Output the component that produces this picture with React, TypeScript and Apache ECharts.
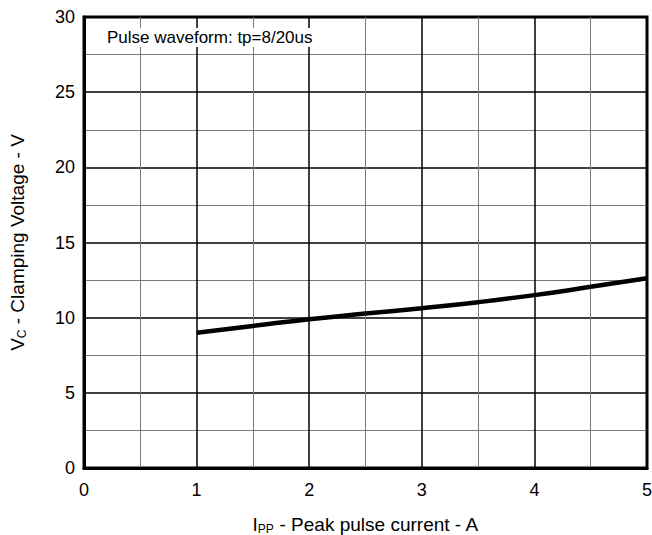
import React, { useEffect, useRef } from "react";
import * as echarts from "echarts";

const currentA = [1, 1.5, 2, 2.5, 3, 3.5, 4, 4.5, 5];
const clampV = [9.0, 9.45, 9.9, 10.27, 10.63, 11.03, 11.5, 12.05, 12.62];
const annotation = "Pulse waveform: tp=8/20us";

export default function App() {
  const ref = useRef<HTMLDivElement>(null);
  useEffect(() => {
    if (!ref.current) return;
    const chart = echarts.init(ref.current, null, { renderer: "svg" });
    const font = "'Liberation Sans', Arial, sans-serif";
    chart.setOption({
      animation: false,
      backgroundColor: "#fff",
      textStyle: { fontFamily: font, color: "#000" },
      grid: {
        left: 84,
        top: 17,
        right: 5,
        bottom: 67,
        containLabel: false,
        outerBoundsMode: "none",
        show: true,
        borderColor: "#000",
        borderWidth: 3,
        backgroundColor: "transparent",
      },
      xAxis: {
        type: "value",
        min: 0,
        max: 5,
        interval: 1,
        axisLine: { show: true, onZero: false, lineStyle: { color: "#000", width: 3 } },
        axisTick: { show: false },
        axisLabel: { color: "#000", fontSize: 18, fontFamily: font, margin: 13 },
        splitLine: { show: true, lineStyle: { color: "#000", width: 1.5 } },
        minorTick: { show: false, splitNumber: 2 },
        minorSplitLine: { show: true, lineStyle: { color: "#7a7a7a", width: 1 } },
        name: "{n|I}{s|PP}{n| - Peak pulse current - A}",
        nameLocation: "middle",
        nameGap: 46,
        nameTextStyle: {
          rich: {
            n: { fontSize: 19, fontFamily: font, color: "#000" },
            s: { fontSize: 12, fontFamily: font, color: "#000", verticalAlign: "bottom", padding: [9, 0, 0, 0] },
          },
        },
      },
      yAxis: {
        type: "value",
        min: 0,
        max: 30,
        interval: 5,
        axisLine: { show: true, onZero: false, lineStyle: { color: "#000", width: 3 } },
        axisTick: { show: false },
        axisLabel: { color: "#000", fontSize: 18, fontFamily: font, margin: 9 },
        splitLine: { show: true, lineStyle: { color: "#000", width: 1.5 } },
        minorTick: { show: false, splitNumber: 2 },
        minorSplitLine: { show: true, lineStyle: { color: "#7a7a7a", width: 1 } },
        name: "{n|V}{s|C}{n| - Clamping Voltage - V}",
        nameLocation: "middle",
        nameRotate: 90,
        nameGap: 56,
        nameTextStyle: {
          rich: {
            n: { fontSize: 19, fontFamily: font, color: "#000" },
            s: { fontSize: 12, fontFamily: font, color: "#000", verticalAlign: "bottom", padding: [10, 0, 0, 0] },
          },
        },
      },
      graphic: [
        {
          type: "text",
          left: 104,
          top: 28,
          z: 10,
          style: {
            text: annotation,
            fontSize: 17,
            fontFamily: font,
            fill: "#000",
            backgroundColor: "#fff",
            padding: [1, 3, 1, 3],
          },
        },
      ],
      series: [
        {
          type: "line",
          data: currentA.map((x, i) => [x, clampV[i]]),
          smooth: true,
          symbol: "none",
          lineStyle: { color: "#000", width: 4.5 },
        },
      ],
    });
    return () => chart.dispose();
  }, []);
  return (
    <div
      ref={ref}
      style={{ position: "fixed", left: 0, top: 0, width: 652, height: 535 }}
    />
  );
}
